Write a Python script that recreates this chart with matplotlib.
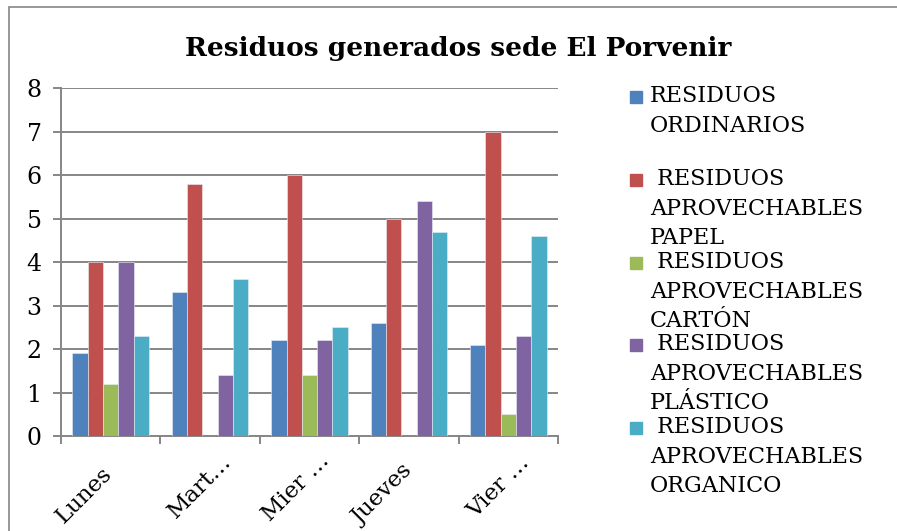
import matplotlib
matplotlib.use("Agg")
import matplotlib.pyplot as plt
from matplotlib.patches import Rectangle
from matplotlib.transforms import ScaledTranslation
import numpy as np

dias = ["Lunes", "Mart…", "Mier …", "Jueves", "Vier …"]
series = [
    "RESIDUOS\nORDINARIOS",
    " RESIDUOS\nAPROVECHABLES\nPAPEL",
    " RESIDUOS\nAPROVECHABLES\nCARTÓN",
    " RESIDUOS\nAPROVECHABLES\nPLÁSTICO",
    " RESIDUOS\nAPROVECHABLES\nORGANICO",
]
ordinarios = [1.9, 3.3, 2.2, 2.6, 2.1]
papel = [4.0, 5.8, 6.0, 5.0, 7.0]
carton = [1.2, 0.0, 1.4, 0.0, 0.5]
plastico = [4.0, 1.4, 2.2, 5.4, 2.3]
organico = [2.3, 3.6, 2.5, 4.7, 4.6]
valores = [ordinarios, papel, carton, plastico, organico]
colores = ["#4F81BD", "#C0504D", "#9BBB59", "#8064A2", "#4BACC6"]

fuente = "DejaVu Serif"
gris = "#868686"
W, H = 897, 531

fig = plt.figure(figsize=(W / 100, H / 100), dpi=100)
ax = fig.add_axes([61 / W, 1 - 436 / H, (558 - 61) / W, (436 - 88) / H])

# marco del grafico
fig.patches.append(Rectangle((8.5 / W, -0.1), 1.2, 1 - 6.7 / H + 0.1,
                             transform=fig.transFigure, fill=False,
                             edgecolor=gris, linewidth=1.2))

x = np.arange(len(dias))
ancho = 0.154
for i, (vals, col) in enumerate(zip(valores, colores)):
    ax.bar(x + (i - 2) * ancho, vals, ancho, color=col,
           edgecolor="#e8eef5", linewidth=0.4, zorder=3)

ax.set_xlim(-0.5, len(dias) - 0.5)
ax.set_ylim(0, 8)
ax.set_yticks(range(0, 9))
ax.grid(axis="y", color=gris, linewidth=1.4, zorder=0)
for s in ["top", "right"]:
    ax.spines[s].set_visible(False)
for s in ["left", "bottom"]:
    ax.spines[s].set_color(gris)
    ax.spines[s].set_linewidth(1.4)

ax.tick_params(axis="y", length=6, width=1.4, color=gris, pad=8,
               labelsize=17)
ax.set_xticks(x)
ax.set_xticklabels(dias, rotation=45, ha="right", rotation_mode="anchor",
                   fontsize=16.5, fontfamily=fuente)
ax.tick_params(axis="x", length=0, pad=18)
# ajuste fino de cada etiqueta (px): las recortadas quedan mas arriba
ajustes = [(-10, 2), (10, -11), (9, -11), (-7, -1), (10, -9)]
for t, (dx, dy) in zip(ax.get_xticklabels(), ajustes):
    t.set_transform(t.get_transform() +
                    ScaledTranslation(dx / 100, -dy / 100, fig.dpi_scale_trans))
ax.set_xticks(np.arange(-0.5, len(dias), 1), minor=True)
ax.tick_params(axis="x", which="minor", length=6, width=1.4, color=gris)
for t in ax.get_yticklabels():
    t.set_fontfamily(fuente)

fig.text(458 / W, 1 - 48 / H, "Residuos generados sede El Porvenir",
         ha="center", va="center", fontsize=19, fontweight="bold",
         fontfamily=fuente)

# leyenda
ys = [97, 180, 263, 345, 428]
for nombre, col, yy in zip(series, colores, ys):
    fig.patches.append(Rectangle((630 / W, 1 - (yy + 6) / H), 12 / W, 12 / H,
                                 transform=fig.transFigure, color=col))
    fig.text(650 / W, 1 - (yy - 12) / H, nombre, ha="left", va="top",
             fontsize=16, fontfamily=fuente, linespacing=1.45)

fig.savefig("out.png", dpi=100)
